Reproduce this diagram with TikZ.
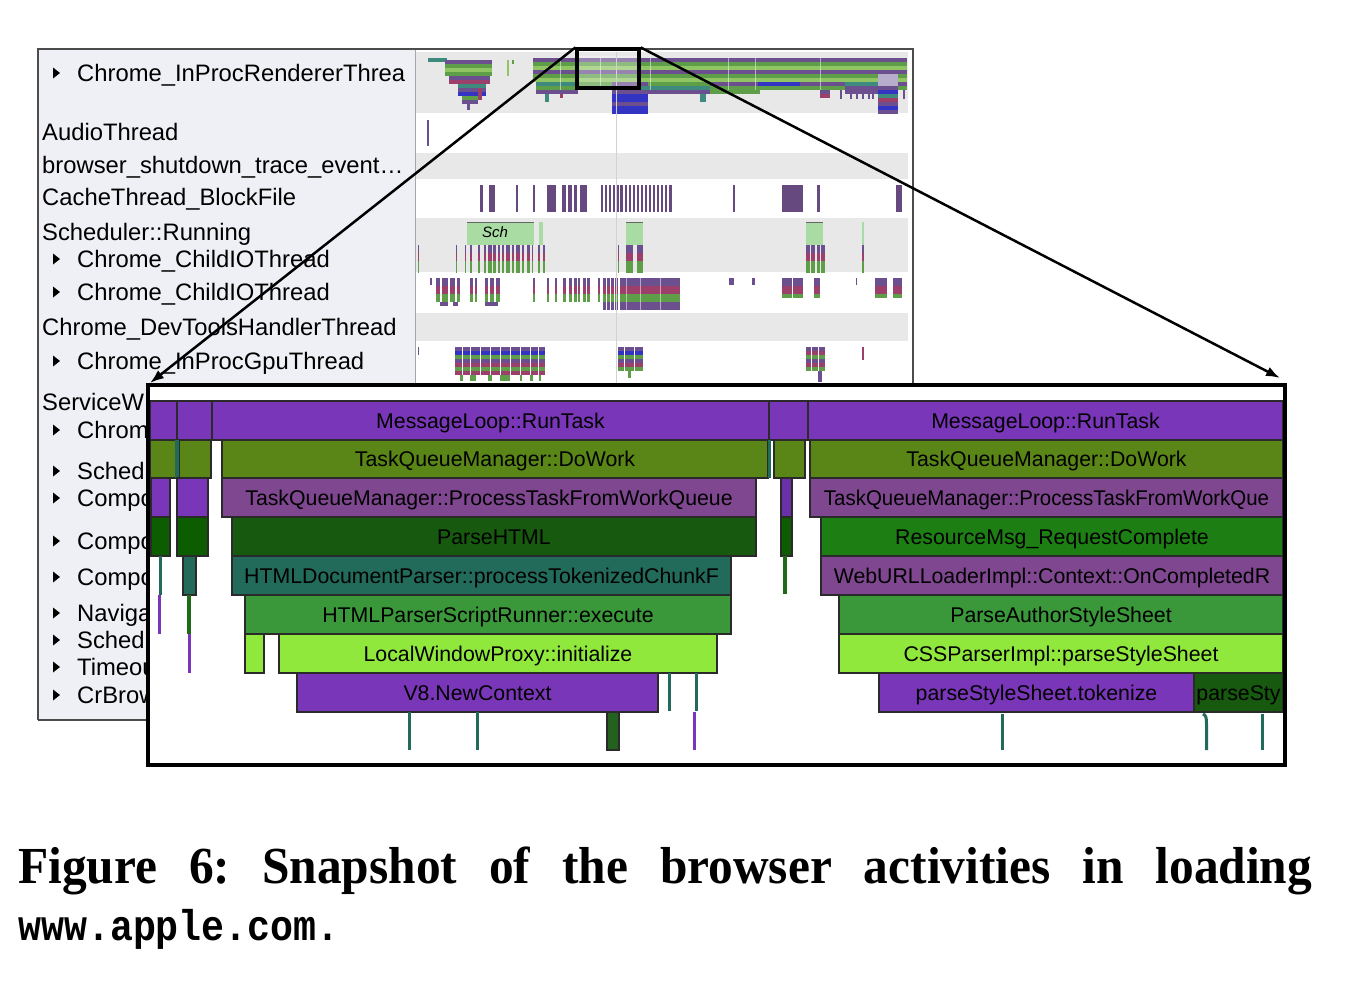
\documentclass[tikz,border=0pt]{standalone}
\usepackage{graphicx}
\usepackage{fontspec}
\setmainfont{Liberation Sans}
\newfontfamily\capserif{Liberation Serif}
\newfontfamily\capmono{Liberation Mono}
\usetikzlibrary{arrows.meta}

\definecolor{mp}{HTML}{7A36B8}
\definecolor{mp2}{HTML}{6A30A8}
\definecolor{ol}{HTML}{5A8517}
\definecolor{mv}{HTML}{7E478F}
\definecolor{dg}{HTML}{17590E}
\definecolor{dg2}{HTML}{0C5C00}
\definecolor{dg3}{HTML}{24601E}
\definecolor{rg}{HTML}{1D7E14}
\definecolor{tealb}{HTML}{226A5A}
\definecolor{mg}{HTML}{3A973A}
\definecolor{lime}{HTML}{90E83C}
\definecolor{thg}{HTML}{1F6A14}
\definecolor{bdr}{HTML}{2A2A2A}
\definecolor{labbg}{HTML}{EFF0F5}
\definecolor{rowg}{HTML}{E8E8E8}
\definecolor{tp}{HTML}{6B4F8F}
\definecolor{tg}{HTML}{5E9E48}
\definecolor{tl}{HTML}{8FC562}
\definecolor{tt}{HTML}{3F8A7E}
\definecolor{tm}{HTML}{9C3F6A}
\definecolor{to}{HTML}{7F9B3B}
\definecolor{tb}{HTML}{3434C4}
\definecolor{tw}{HTML}{B8AECB}
\definecolor{cachep}{HTML}{65497F}
\definecolor{schg}{HTML}{A9DCA3}

\newcommand\fgbar[6]{%
  \filldraw[fill=#5,draw=bdr,line width=1.3pt] (#1,#3) rectangle (#2,#4);
  \node[bartext] at ({(#1+#2)/2},{(#3+#4)/2+7.6}) {#6};}
\newcommand\vln[5]{\fill[#5] (#1,#3) rectangle (#2,#4);}
\newcommand\tstack[4]{\foreach \cc [count=\ii from 0] in {#4}{\fill[\cc] (#1,{#3+4*\ii}) rectangle (#2,{#3+4*\ii+4});}}

\begin{document}
\begin{tikzpicture}[x=1pt,y=-1pt,
  bartext/.style={font=\fontsize{21.3}{21}\selectfont,anchor=base,inner sep=0pt,text=black},
  lab/.style={font=\fontsize{23.8}{24}\selectfont,anchor=base west,inner sep=0pt,text=black},
  zoomline/.style={line width=2.5pt,-{Latex[length=14pt,width=10pt]}}]
\useasboundingbox (0,0) rectangle (1354,980);
\fill[white] (0,0) rectangle (1354,980);

% ---------- left panel ----------
\fill[labbg] (38,49) rectangle (415,720);
\fill[white] (415,49) rectangle (913,385);
\fill[rowg] (416,52) rectangle (908,113);
\fill[rowg] (416,153) rectangle (908,179);
\fill[rowg] (416,218) rectangle (908,272);
\fill[rowg] (416,313) rectangle (908,341);
\draw[gray!70,line width=1pt] (415,49) -- (415,385);
\draw[black!70,line width=1.5pt] (38,720) -- (38,49) -- (913,49) -- (913,385);
\draw[black!70,line width=1.5pt] (38,720) -- (150,720);

% ---------- renderer flame (top row) ----------
\tstack{428}{447}{58}{tt}
\tstack{445}{492}{60}{tp,tg,tl,tg}
\tstack{449}{490}{76}{tp,tm}
\tstack{458}{486}{84}{tt,tp,tb}
\tstack{462}{478}{96}{tg,tp}
\vln{467}{470}{104}{110}{tp}
\vln{478}{482}{88}{100}{tm}
\vln{507}{509}{60}{76}{tl}
\vln{512}{514}{60}{64}{tg}
\tstack{533}{907}{58}{tp,tg,tl,tp,tg,tl}
\tstack{536}{578}{82}{tt,tg,tp}
\vln{545}{549}{94}{102}{tt}
\vln{560}{563}{94}{98}{tm}
\tstack{578}{612}{82}{tg,tp}
\tstack{612}{648}{82}{tp,tt,tp,tb,tb,tp,tb,tb}
\tstack{648}{710}{82}{tg,tt,tp}
\vln{700}{706}{94}{102}{tt}
\tstack{710}{760}{82}{tp,tg,tg}
\tstack{758}{800}{82}{tb,tg}
\tstack{800}{845}{82}{tp,tg}
\tstack{820}{830}{90}{tp,tm}
\tstack{845}{878}{82}{tt,tp,tp}
\tstack{878}{898}{74}{tw,tw,tw,tp,tb,tt,tm,tp,tb,tp}
\tstack{898}{907}{82}{tp,tg}
\foreach \a in {840,850,856,862,868,872,903}{\vln{\a}{\a+2}{90}{99}{tp}}
\foreach \a in {560,600,650,728,755,820}{\draw[white,opacity=0.5,line width=0.8pt] (\a,58) -- (\a,90);}
\fill[white,opacity=0.3] (578,56) rectangle (638,88);

% ---------- audio ----------
\vln{427}{429}{120}{146}{tp}

% ---------- cache thread ----------
\foreach \a/\b in {480/483,489/495,516/518,533/535,547/556,562/566,568/572,574/577,580/587,
  601/603,605/607,609/611,613/615,617/619,620/623,625/627,629/631,633/635,637/639,641/643,
  645/647,649/651,653/655,657/659,661/663,665/667,669/672,733/735,782/803,817/820,896/902}
  {\fill[cachep] (\a,185) rectangle (\b,212);}

% ---------- scheduler / child IO ----------
\fill[schg] (467,222) rectangle (534,245);
\draw[black!60,line width=1.2pt] (467,222.6) -- (534,222.6);
\node[font=\itshape\fontsize{15}{15}\selectfont,inner sep=0pt] (schlab) at (495,232) {Sch};
\fill[schg] (539,222) rectangle (543,245);
\fill[schg] (626,222) rectangle (643,245);
\draw[black!60,line width=1.2pt] (626,222.6) -- (643,222.6);
\fill[schg] (806,222) rectangle (823,245);
\draw[black!60,line width=1.2pt] (806,222.6) -- (823,222.6);
\fill[schg] (862,222) rectangle (864,245);
\foreach \a/\b in {418/419,456/457,465/466,470/472,478/480,484/486,488/492,493/496,498/500,502/504,
  506/510,512/514,516/520,522/524,527/530,532/533,538/540,543/545,618/619,626/633,637/643,
  806/810,811/815,817/820,821/825,862/864}
  {\tstack{\a}{\b}{245}{tp,tp,tm,tm,tg,tg,tg}}

\foreach \a/\b in {436/440,442/448,450/455,457/460,470/473,475/477,485/488,490/494,496/500,533/535,547/549,
  555/557,563/566,569/572,574/577,578/580,583/586,587/590,598/600}
  {\tstack{\a}{\b}{278}{tp,tp,tm,tm,tg,tg}}
\foreach \a/\b in {603/606,607/610,611/614,615/618,620/680}
  {\tstack{\a}{\b}{278}{tp,tp,tm,tm,tg,tg,tp,tp}}
\foreach \a/\b in {440/448,453/458,485/498}{\vln{\a}{\b}{302}{306}{tp}}
\foreach \a/\b in {430/432,729/734,752/755,856/857}{\vln{\a}{\b}{278}{285}{tp}}
\foreach \a/\b in {782/792,793/803,814/820,875/887,893/902}
  {\tstack{\a}{\b}{278}{tp,tp,tm,tm,tg}}
\foreach \a in {626,640,660,680}{\draw[white,opacity=0.5,line width=0.6pt] (\a,278) -- (\a,310);}

% ---------- gpu ----------
\vln{418}{419}{347}{355}{tp}
\foreach \a/\b in {455/462,463/470,471/480,481/490,491/500,501/510,511/520,521/530,531/538,539/545}
  {\tstack{\a}{\b}{347}{tp,tb,tg,tp,tm,tg,tm}}
\foreach \a/\b in {460/463,470/476,488/492,500/510,520/522,530/533,539/541}{\vln{\a}{\b}{375}{381}{tg}}
\foreach \a/\b in {618/624,625/634,635/643}{\tstack{\a}{\b}{347}{tp,tb,tg,tp,tm,tg}}
\vln{628}{631}{371}{378}{tg}
\foreach \a/\b in {806/811,812/818,819/825}{\tstack{\a}{\b}{347}{tp,tm,tg,tp,tm,tg}}
\vln{818}{822}{371}{382}{tp}
\vln{862}{864}{347}{360}{tm}

\draw[gray!35,line width=0.8pt] (616,52) -- (616,385);

% ---------- left labels ----------
\foreach \yy/\tri/\txt in {73/1/Chrome\_InProcRendererThrea, 132/0/AudioThread,
  165/0/browser\_shutdown\_trace\_event…, 197/0/CacheThread\_BlockFile,
  232/0/Scheduler::Running, 259/1/Chrome\_ChildIOThread, 292/1/Chrome\_ChildIOThread,
  327/0/Chrome\_DevToolsHandlerThread, 361/1/Chrome\_InProcGpuThread, 402/0/ServiceW,
  430/1/Chrom, 471/1/Sched, 498/1/Compo, 541/1/Compo, 577/1/Compo, 613/1/Naviga,
  640/1/Sched, 667/1/Timeou, 695/1/CrBrow}{
  \ifnum\tri=1
    \fill (53,\yy-5.5) -- (60,\yy) -- (53,\yy+5.5) -- cycle;
    \node[lab] at (77,\yy+8.4) {\txt};
  \else
    \node[lab] at (42,\yy+8.4) {\txt};
  \fi}

% ---------- zoom source box ----------
\node[draw=black,line width=3.2pt,minimum width=62pt,minimum height=39pt,inner sep=0pt] (zoomsrc) at (608,68.5) {};

% ---------- zoomed flame chart ----------
\node[fill=white,minimum width=1137pt,minimum height=380pt,inner sep=0pt] (zoomdst) at (716.5,575) {};

% row 1
\fgbar{150}{177}{401}{440}{mp}{}
\fgbar{177}{212}{401}{440}{mp}{}
\fgbar{212}{769}{401}{440}{mp}{MessageLoop::RunTask}
\fgbar{769}{808}{401}{440}{mp}{}
\fgbar{808}{1283}{401}{440}{mp}{MessageLoop::RunTask}
% row 2
\fgbar{150}{176}{440}{478}{ol}{}
\fgbar{179}{211}{440}{478}{ol}{}
\vln{175}{179}{440}{478}{tealb}
\fgbar{222}{768}{440}{478}{ol}{TaskQueueManager::DoWork}
\vln{768}{771}{440}{478}{tealb}
\fgbar{774}{805}{440}{478}{ol}{}
\fgbar{810}{1283}{440}{478}{ol}{TaskQueueManager::DoWork}
% row 3
\fgbar{151}{170}{478}{517}{mp}{}
\fgbar{177}{208}{478}{517}{mp}{}
\fgbar{222}{756}{478}{517}{mv}{TaskQueueManager::ProcessTaskFromWorkQueue}
\fgbar{781}{792}{478}{517}{mp2}{}
\fgbar{810}{1283}{478}{517}{mv}{\scalebox{0.96}[1]{TaskQueueManager::ProcessTaskFromWorkQue}}
% row 4
\fgbar{151}{170}{517}{556}{dg2}{}
\fgbar{177}{208}{517}{556}{dg2}{}
\fgbar{232}{756}{517}{556}{dg}{ParseHTML}
\fgbar{781}{792}{517}{556}{dg2}{}
\fgbar{821}{1283}{517}{556}{rg}{ResourceMsg\_RequestComplete}
% row 5
\vln{159}{162}{556}{595}{tealb}
\fgbar{183}{196}{556}{595}{tealb}{}
\fgbar{232}{731}{556}{595}{tealb}{HTMLDocumentParser::processTokenizedChunkF}
\vln{783}{787}{556}{594}{thg}
\fgbar{821}{1283}{556}{595}{mv}{WebURLLoaderImpl::Context::OnCompletedR}
% row 6
\vln{158}{161}{595}{634}{mp}
\vln{187}{191}{595}{634}{thg}
\fgbar{245}{731}{595}{634}{mg}{HTMLParserScriptRunner::execute}
\fgbar{839}{1283}{595}{634}{mg}{ParseAuthorStyleSheet}
% row 7
\vln{188}{191}{634}{673}{mp}
\fgbar{245}{264}{634}{673}{lime}{}
\fgbar{279}{717}{634}{673}{lime}{LocalWindowProxy::initialize}
\fgbar{839}{1283}{634}{673}{lime}{CSSParserImpl::parseStyleSheet}
% row 8
\fgbar{297}{658}{673}{712}{mp}{V8.NewContext}
\vln{668}{671}{673}{711}{tealb}
\vln{695}{698}{673}{711}{tealb}
\fgbar{879}{1194}{673}{712}{mp}{parseStyleSheet.tokenize}
\fgbar{1194}{1283}{673}{712}{dg}{parseSty}
% row 9
\vln{408}{411}{712}{750}{tealb}
\vln{476}{479}{712}{750}{tealb}
\fgbar{607}{619}{712}{750}{dg3}{}
\vln{693}{696}{712}{750}{mp}
\vln{1001}{1004}{714}{750}{tealb}
\draw[tealb,line width=3pt] (1203,714) .. controls (1206,715) and (1206.5,718) .. (1206.5,724) -- (1206.5,750);
\vln{1261}{1264}{714}{750}{tealb}

\draw[black,line width=3.5pt] (zoomdst.south west) rectangle (zoomdst.north east);

% ---------- zoom connectors ----------
\coordinate (dstleft) at (150,383);
\coordinate (dstright) at (1280,378);
\draw[zoomline] (zoomsrc.north west) -- (dstleft);
\draw[zoomline] (zoomsrc.north east) -- (dstright);

% ---------- caption ----------
\node[anchor=base west,inner sep=0pt] (capA) at (18,883)
  {\scalebox{0.95}[1]{\makebox[1362pt][s]{\frenchspacing\capserif\bfseries\fontsize{52}{60}\selectfont Figure 6: Snapshot of the browser activities in loading}}};
\node[anchor=base west,inner sep=0pt] (capB) at (18,940)
  {\scalebox{0.89}[1]{\capmono\bfseries\fontsize{43}{50}\selectfont www.apple.com.}};
\end{tikzpicture}
\end{document}
